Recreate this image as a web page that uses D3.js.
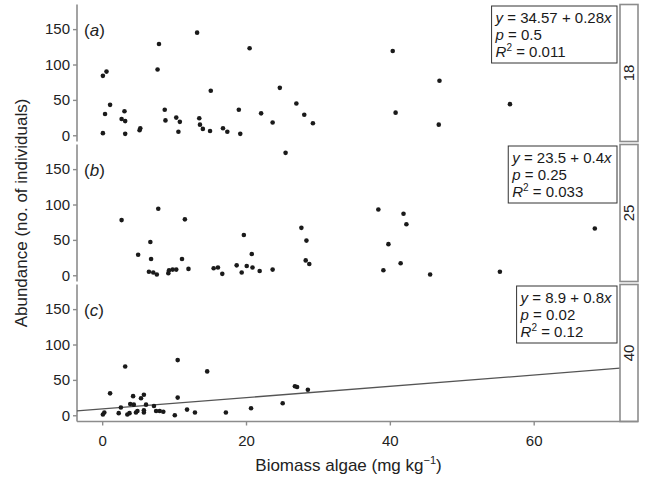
<!DOCTYPE html>
<html>
<head>
<meta charset="utf-8">
<script src="https://cdn.jsdelivr.net/npm/d3@7"></script>
<style>
  body { margin: 0; background: #fff; }
  svg { display: block; }
</style>
</head>
<body>
<div id="chart"></div>
<script>
// ---- data ----
var panelNames = ["18", "25", "40"];
var panelTags = ["a", "b", "c"];
var xTicks = [0, 20, 40, 60];
var yTicks = [0, 50, 100, 150];

var xA = [0.1, 0.6, 0.4, 1.1, 0.1, 3.1, 2.7, 3.2, 3.2, 5.3, 5.2, 7.9, 7.7, 8.7, 8.8, 10.3, 10.8, 10.6,
          13.2, 13.5, 13.6, 14.0, 15.1, 15.0, 16.8, 17.4, 19.0, 19.2, 20.5, 22.1, 23.7, 24.7, 27.0, 28.1,
          29.3, 40.4, 46.9, 40.8, 46.8, 56.7];
var yA = [84, 90, 30, 43, 3, 34, 23, 20, 2, 10, 7, 129, 93, 36, 21, 25, 19, 5,
          145, 24, 15, 9, 63, 6, 10, 5, 36, 2, 123, 31, 18, 67, 45, 29,
          17, 119, 77, 32, 15, 44];

var xB = [25.5, 2.7, 5.0, 6.7, 6.8, 6.5, 7.1, 7.6, 7.8, 9.2, 9.3, 9.8, 10.3, 11.1, 11.5, 12.0, 15.5,
          16.1, 16.7, 18.7, 19.4, 19.7, 20.1, 20.8, 20.9, 21.9, 23.7, 27.7, 28.4, 28.3, 28.8, 38.4,
          41.9, 42.3, 39.8, 41.5, 39.1, 45.6, 55.3, 68.5];
var yB = [173, 78, 29, 47, 23, 5, 4, 1, 94, 3, 7, 8, 8, 23, 79, 9, 10,
          11, 2, 14, 4, 57, 13, 30, 11, 6, 8, 67, 49, 21, 16, 93,
          87, 72, 44, 17, 7, 1, 5, 66];

var xC = [3.2, 1.1, 0.1, 0.3, 2.3, 2.6, 3.5, 3.8, 3.9, 4.3, 4.4, 4.7, 4.9, 5.4, 5.8, 5.8, 5.8, 6.1,
          7.2, 7.5, 8.0, 8.5, 10.1, 10.5, 10.5, 11.8, 12.9, 14.6, 17.2, 20.7, 25.1, 26.8, 27.1, 28.6];
var yC = [69, 31, 1, 4, 3, 11, 1, 3, 16, 27, 15, 4, 6, 24, 29, 4, 7, 15,
          13, 6, 6, 5, 0, 78, 25, 8, 4, 62, 4, 10, 17, 41, 40, 36];

var intercepts = ["34.57", "23.5", "8.9"];
var slopes = ["0.28", "0.4", "0.8"];
var pValues = ["0.5", "0.25", "0.02"];
var rSquared = ["0.011", "0.033", "0.12"];
var showFit = [false, false, true];

var xData = [xA, xB, xC];
var yData = [yA, yB, yC];

// ---- layout ----
var W = 648, H = 479;
var left = 77, right = 620, stripW = 18;
var panelTop = [4.5, 144.5, 284.5], panelH = 137;
var font = "'Liberation Sans', Arial, Helvetica, sans-serif";
var axisGray = "#8c8c8c";

var svg = d3.select("#chart").append("svg")
    .attr("width", W)
    .attr("height", H);

var x = d3.scaleLinear().domain([-3.5, 72]).range([left, right]);

for (var i = 0; i < 3; i++) {
    let top = panelTop[i];
    let y = d3.scaleLinear().domain([-8.8, 184.8]).range([top + panelH, top]);
    let g = svg.append("g");

    // y axis
    let yAxis = g.append("g")
        .attr("transform", "translate(" + left + ",0)")
        .call(d3.axisLeft(y).tickValues(yTicks).tickSize(4).tickPadding(3));
    yAxis.select(".domain").attr("d", "M0," + top + "V" + (top + panelH))
        .attr("stroke", axisGray).attr("stroke-width", 1.6);
    yAxis.selectAll(".tick line").attr("stroke", axisGray).attr("stroke-width", 1.4);
    yAxis.selectAll(".tick text")
        .style("font-family", font).style("font-size", "15px").attr("fill", "#222");

    // fit line
    if (showFit[i]) {
        let b0 = +intercepts[i], b1 = +slopes[i];
        let xd = x.domain();
        g.append("line")
            .attr("x1", x(xd[0])).attr("y1", y(b0 + b1 * xd[0]))
            .attr("x2", x(xd[1])).attr("y2", y(b0 + b1 * xd[1]))
            .attr("stroke", "#555").attr("stroke-width", 1.3);
    }

    // points
    g.append("g").selectAll("circle")
        .data(d3.range(xData[i].length))
        .join("circle")
        .attr("cx", k => x(xData[i][k]))
        .attr("cy", k => y(yData[i][k]))
        .attr("r", 2.3)
        .attr("fill", "#1a1a1a");

    // panel tag (a), (b), (c)
    let tag = g.append("text")
        .attr("x", 84).attr("y", top + 31)
        .style("font-family", font).style("font-size", "17px").attr("fill", "#222");
    tag.append("tspan").text("(");
    tag.append("tspan").style("font-style", "italic").text(panelTags[i]);
    tag.append("tspan").text(")");

    // stats box
    let box = g.append("g");
    let rect = box.append("rect");
    let tx = box.append("g")
        .style("font-family", font).style("font-size", "15px").attr("fill", "#1a1a1a");
    let l1 = tx.append("text").attr("y", top + 18);
    l1.append("tspan").style("font-style", "italic").text("y");
    l1.append("tspan").text(" = " + intercepts[i] + " + " + slopes[i]);
    l1.append("tspan").style("font-style", "italic").text("x");
    let l2 = tx.append("text").attr("y", top + 35);
    l2.append("tspan").style("font-style", "italic").text("p");
    l2.append("tspan").text(" = " + pValues[i]);
    let l3 = tx.append("text").attr("y", top + 52);
    l3.append("tspan").style("font-style", "italic").text("R");
    l3.append("tspan").attr("dy", -6).style("font-size", "10px").text("2");
    l3.append("tspan").attr("dy", 6).text(" = " + rSquared[i]);
    let bw = tx.node().getBBox().width;
    let bx = right - 3 - bw - 8;
    tx.attr("transform", "translate(" + (bx + 4) + ",0)");
    rect.attr("x", bx).attr("y", top + 1.5)
        .attr("width", bw + 8).attr("height", 57)
        .attr("fill", "#fff").attr("stroke", "#333").attr("stroke-width", 1);

    // strip on the right
    g.append("rect")
        .attr("x", right).attr("y", top)
        .attr("width", stripW).attr("height", panelH)
        .attr("fill", "#fff").attr("stroke", axisGray).attr("stroke-width", 1.6);
    let cx = right + stripW / 2, cy = top + panelH / 2;
    g.append("text")
        .attr("transform", "translate(" + (cx + 5) + "," + cy + ") rotate(-90)")
        .attr("text-anchor", "middle")
        .style("font-family", font).style("font-size", "15px").attr("fill", "#222")
        .text(panelNames[i]);

    // x axis on the last panel only
    if (i === 2) {
        let xAxis = svg.append("g")
            .attr("transform", "translate(0," + (top + panelH) + ")")
            .call(d3.axisBottom(x).tickValues(xTicks).tickSize(4).tickPadding(10));
        xAxis.select(".domain").attr("d", "M" + left + ",0H" + (right + stripW))
            .attr("stroke", axisGray).attr("stroke-width", 1.6);
        xAxis.selectAll(".tick line").attr("stroke", axisGray).attr("stroke-width", 1.4);
        xAxis.selectAll(".tick text")
            .style("font-family", font).style("font-size", "15px").attr("fill", "#222");
    }
}

// axis titles
var xt = svg.append("text")
    .attr("x", (left + right) / 2).attr("y", 471)
    .attr("text-anchor", "middle")
    .style("font-family", font).style("font-size", "17px").attr("fill", "#222");
xt.append("tspan").text("Biomass algae (mg kg");
xt.append("tspan").attr("dy", -7).style("font-size", "11px").text("\u22121");
xt.append("tspan").attr("dy", 7).text(")");

svg.append("text")
    .attr("transform", "translate(27," + (panelTop[0] + panelTop[2] + panelH) / 2 + ") rotate(-90)")
    .attr("text-anchor", "middle")
    .style("font-family", font).style("font-size", "17px").attr("fill", "#222")
    .text("Abundance (no. of individuals)");
</script>
</body>
</html>
